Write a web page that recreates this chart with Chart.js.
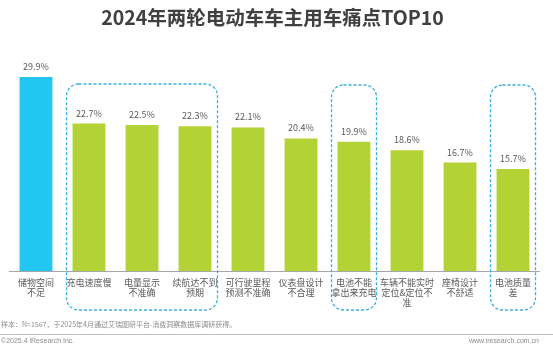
<!DOCTYPE html>
<html>
<head>
<meta charset="utf-8">
<script src="https://cdn.jsdelivr.net/npm/chart.js@4/dist/chart.umd.min.js"></script>
<style>
  body { margin: 0; background: #fff; font-family: "Noto Sans CJK SC", "Noto Sans", sans-serif; }
  #wrap { position: relative; width: 553px; height: 347px; overflow: hidden; }
  #grafico { position: absolute; left: 0; top: 0; }
  .titulo { position: absolute; left: 0; width: 545px; top: 2px; text-align: center;
    font-size: 19.5px; font-weight: bold; color: #404040; }
  .nota { position: absolute; left: 1px; top: 319px; font-size: 7px; color: #8c8c8c; }
  .linha { position: absolute; left: 0; width: 553px; top: 334px; height: 1px; background: #bfbfbf; }
  .copy { position: absolute; left: 1px; top: 337px; font-size: 7px; color: #8c8c8c; font-family: "Liberation Sans", sans-serif; }
  .site { position: absolute; right: 14px; top: 337px; font-size: 7px; color: #8c8c8c; font-family: "Liberation Sans", sans-serif; }
</style>
</head>
<body>
<div id="wrap">
  <canvas id="grafico" width="553" height="347"></canvas>
  <div class="titulo">2024年两轮电动车车主用车痛点TOP10</div>
  <div class="nota">样本：N=1567，于2025年4月通过艾瑞图研平台-消费洞察数据库调研获得。</div>
  <div class="linha"></div>
  <div class="copy">©2025.4 iResearch Inc.</div>
  <div class="site">www.iresearch.com.cn</div>
</div>
<script>
// Dados do gráfico
const categorias = [
  ["储物空间", "不足"],
  ["充电速度慢"],
  ["电量显示", "不准确"],
  ["续航达不到", "预期"],
  ["可行驶里程", "预测不准确"],
  ["仪表盘设计", "不合理"],
  ["电池不能", "拿出来充电"],
  ["车辆不能实时", "定位&定位不", "准"],
  ["座椅设计", "不舒适"],
  ["电池质量", "差"],
];
const valores = [29.9, 22.7, 22.5, 22.3, 22.1, 20.4, 19.9, 18.6, 16.7, 15.7];
const cores = ["#22c6f0", "#b2d235", "#b2d235", "#b2d235", "#b2d235", "#b2d235", "#b2d235", "#b2d235", "#b2d235", "#b2d235"];
// grupos destacados (índices de início e fim)
const destaques = [[1, 3], [6, 6], [9, 9]];

// Rótulos de valor acima das barras
const pluginValores = {
  id: "valores",
  afterDatasetsDraw(chart) {
    const ctx = chart.ctx;
    const meta = chart.getDatasetMeta(0);
    ctx.save();
    ctx.font = "9px 'Noto Sans CJK SC', sans-serif";
    ctx.fillStyle = "#595959";
    ctx.textAlign = "center";
    ctx.textBaseline = "bottom";
    meta.data.forEach((bar, i) => {
      ctx.fillText(valores[i].toFixed(1) + "%", bar.x, bar.y - 6);
    });
    ctx.restore();
  },
};

// Caixas tracejadas
const pluginCaixas = {
  id: "caixas",
  afterDraw(chart) {
    const ctx = chart.ctx;
    const x = chart.scales.x;
    ctx.save();
    ctx.strokeStyle = "#3aaee0";
    ctx.lineWidth = 1.3;
    ctx.setLineDash([3, 2]);
    destaques.forEach(([ini, fim]) => {
      const esq = x.getPixelForValue(ini) - 22.5;
      const dir = x.getPixelForValue(fim) + 22.5;
      const topo = ini === 1 ? 84 : 85;
      const base = 310;
      ctx.beginPath();
      ctx.roundRect(esq, topo, dir - esq, base - topo, 12);
      ctx.stroke();
    });
    ctx.restore();
  },
};

const config = {
  type: "bar",
  data: {
    labels: categorias,
    datasets: [
      {
        data: valores,
        backgroundColor: cores,
        categoryPercentage: 1,
        barPercentage: 0.62,
      },
    ],
  },
  options: {
    responsive: false,
    animation: false,
    layout: { padding: { top: 60, left: 9.5, right: 13.5, bottom: 0 } },
    plugins: {
      legend: { display: false },
      tooltip: { enabled: false },
    },
    scales: {
      x: {
        grid: { display: false, drawTicks: false },
        border: { display: true, color: "#a6a6a6", width: 1 },
        ticks: {
          color: "#595959",
          font: { size: 9, family: "'Noto Sans CJK SC', sans-serif", lineHeight: 1.15 },
          padding: 6,
          maxRotation: 0,
          autoSkip: false,
        },
        afterFit: (eixo) => { eixo.height = 347 - 271; },
      },
      y: {
        display: false,
        min: 0,
        max: 32.5,
      },
    },
  },
  plugins: [pluginValores, pluginCaixas],
};

const ctx = document.getElementById("grafico").getContext("2d");
const grafico = new Chart(ctx, config);
</script>
</body>
</html>
